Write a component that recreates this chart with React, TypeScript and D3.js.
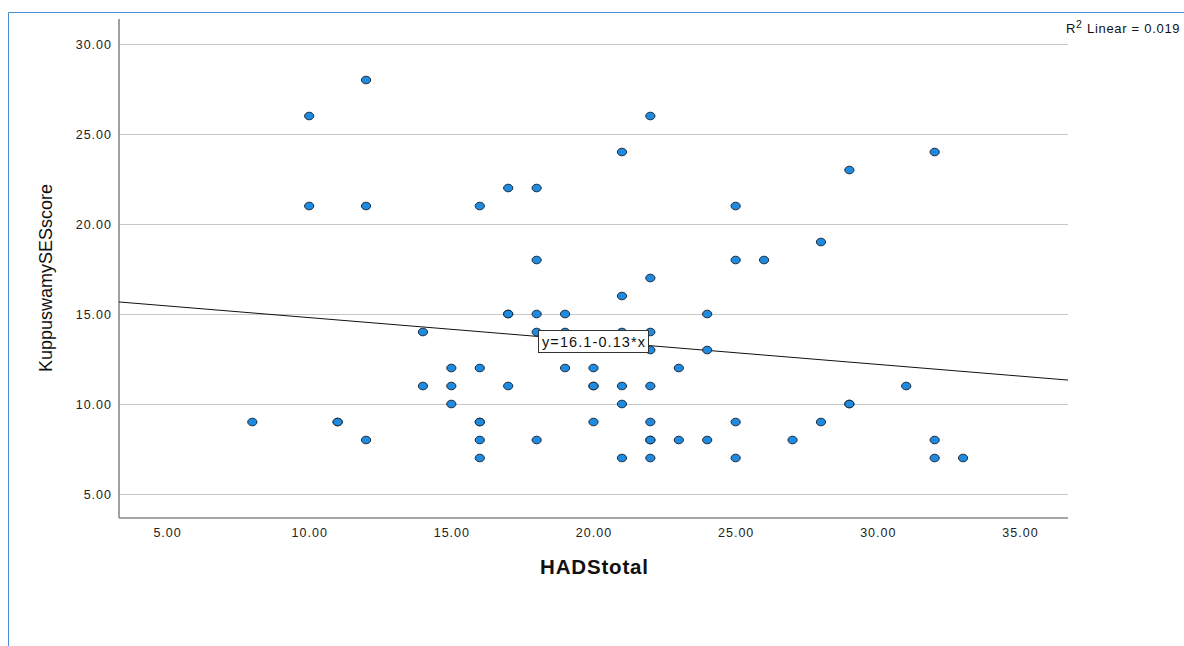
import React, { useEffect, useRef } from 'react';
import * as d3 from 'd3';

// HADStotal (x) and KuppuswamySESscore (y)
const hadsTotal = [
  8, 10, 10, 11, 11, 12, 12, 12, 14, 14, 15, 15, 15,
  16, 16, 16, 16, 16, 16, 17, 17, 17, 17, 18, 18, 18, 18, 18,
  19, 19, 19, 20, 20, 20, 20, 21, 21, 21, 21, 21, 21,
  22, 22, 22, 22, 22, 22, 22, 22, 22, 23, 23, 24, 24, 24,
  25, 25, 25, 25, 26, 27, 28, 28, 29, 29, 29, 31, 32, 32, 32, 33,
];
const sesScore = [
  9, 26, 21, 9, 9, 28, 21, 8, 14, 11, 12, 11, 10,
  21, 12, 9, 9, 8, 7, 22, 15, 15, 11, 22, 18, 15, 14, 8,
  15, 14, 12, 12, 11, 11, 9, 24, 16, 14, 11, 10, 7,
  26, 17, 14, 13, 11, 9, 8, 8, 7, 12, 8, 15, 13, 8,
  21, 18, 9, 7, 18, 8, 19, 9, 23, 10, 10, 11, 24, 8, 7, 7,
];

const xTicks = [5, 10, 15, 20, 25, 30, 35];
const yTicks = [5, 10, 15, 20, 25, 30];

// fit line as printed on the chart
const fitIntercept = 16.1;
const fitSlope = -0.13;
const fitLabel = 'y=16.1-0.13*x';
const r2Value = '0.019';

const App = () => {
  const ref = useRef<SVGSVGElement | null>(null);

  useEffect(() => {
    if (!ref.current) return;
    const svg = d3.select(ref.current);
    svg.selectAll('*').remove();

    const left = 119, right = 1068, top = 19, bottom = 518;
    const x = d3.scaleLinear().domain([3.31, 36.69]).range([left, right]);
    const y = d3.scaleLinear().domain([3.667, 31.39]).range([bottom, top]);
    const font = 'Arial, "Liberation Sans", sans-serif';

    // outer frame
    svg.append('path')
      .attr('d', 'M8.5,646 L8.5,12.5 L1184,12.5')
      .attr('fill', 'none')
      .attr('stroke', '#4a8fd6')
      .attr('stroke-width', 1);

    // gridlines
    svg.append('g')
      .selectAll('line')
      .data(yTicks)
      .enter()
      .append('line')
      .attr('x1', left)
      .attr('x2', right)
      .attr('y1', d => Math.round(y(d)) + 0.5)
      .attr('y2', d => Math.round(y(d)) + 0.5)
      .attr('stroke', '#c8c8c8')
      .attr('stroke-width', 1.2);

    // axes
    svg.append('line')
      .attr('x1', left).attr('x2', left)
      .attr('y1', top).attr('y2', bottom)
      .attr('stroke', '#8a8a8a').attr('stroke-width', 1.6);
    svg.append('line')
      .attr('x1', left).attr('x2', right)
      .attr('y1', bottom).attr('y2', bottom)
      .attr('stroke', '#8a8a8a').attr('stroke-width', 1.6);

    // tick labels
    svg.append('g')
      .selectAll('text')
      .data(yTicks)
      .enter()
      .append('text')
      .attr('x', 112)
      .attr('y', d => y(d) + 4.5)
      .attr('text-anchor', 'end')
      .attr('font-family', font)
      .attr('font-size', 12.5)
      .attr('letter-spacing', 1)
      .attr('fill', '#222')
      .text(d => d.toFixed(2));
    svg.append('g')
      .selectAll('text')
      .data(xTicks)
      .enter()
      .append('text')
      .attr('x', d => x(d) + 0.5)
      .attr('y', 537)
      .attr('text-anchor', 'middle')
      .attr('font-family', font)
      .attr('font-size', 12.5)
      .attr('letter-spacing', 1)
      .attr('fill', '#222')
      .text(d => d.toFixed(2));

    // axis titles
    svg.append('text')
      .attr('x', 540)
      .attr('y', 574)
      .attr('font-family', font)
      .attr('font-size', 20.5)
      .attr('font-weight', 'bold')
      .attr('textLength', 108)
      .attr('lengthAdjust', 'spacing')
      .attr('fill', '#111')
      .text('HADStotal');
    svg.append('text')
      .attr('transform', 'translate(52,278) rotate(-90)')
      .attr('text-anchor', 'middle')
      .attr('font-family', font)
      .attr('font-size', 18)
      .attr('fill', '#111')
      .text('KuppuswamySESscore');

    // fit line
    const [x0, x1] = x.domain();
    svg.append('line')
      .attr('x1', x(x0))
      .attr('y1', y(fitIntercept + fitSlope * x0))
      .attr('x2', x(x1))
      .attr('y2', y(fitIntercept + fitSlope * x1))
      .attr('stroke', '#111')
      .attr('stroke-width', 1);

    // points
    svg.append('g')
      .selectAll('ellipse')
      .data(hadsTotal.map((h, i) => [h, sesScore[i]]))
      .enter()
      .append('ellipse')
      .attr('cx', d => x(d[0]))
      .attr('cy', d => y(d[1]))
      .attr('rx', 4.6)
      .attr('ry', 3.8)
      .attr('fill', '#1e8be0')
      .attr('stroke', '#1a2a3a')
      .attr('stroke-width', 1);

    // equation label box
    const g = svg.append('g');
    g.append('rect')
      .attr('x', 538.5)
      .attr('y', 330.5)
      .attr('width', 110)
      .attr('height', 22)
      .attr('fill', '#fff')
      .attr('stroke', '#333')
      .attr('stroke-width', 1);
    g.append('text')
      .attr('x', 542)
      .attr('y', 347)
      .attr('font-family', font)
      .attr('font-size', 14.5)
      .attr('textLength', 103)
      .attr('lengthAdjust', 'spacing')
      .attr('fill', '#111')
      .text(fitLabel);

    // R squared label
    const r2 = svg.append('text')
      .attr('x', 1066)
      .attr('y', 33)
      .attr('font-family', font)
      .attr('font-size', 13)
      .attr('letter-spacing', 0.7)
      .attr('fill', '#111');
    r2.append('tspan').text('R');
    r2.append('tspan').attr('dy', -5).attr('font-size', 10.5).text('2');
    r2.append('tspan').attr('dy', 5).text(` Linear = ${r2Value}`);
  }, []);

  return (
    <svg
      ref={ref}
      width={1184}
      height={646}
      style={{ position: 'absolute', left: 0, top: 0, background: '#fff' }}
    />
  );
};

export default App;
